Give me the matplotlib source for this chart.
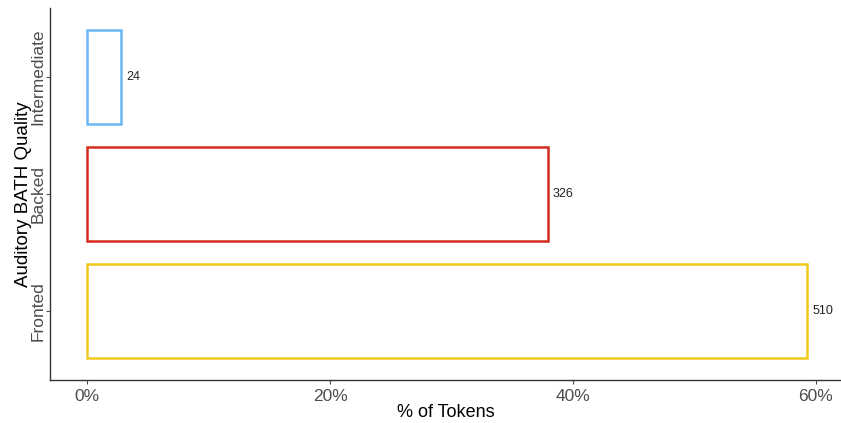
import matplotlib.pyplot as plt

categories = ['Fronted', 'Backed', 'Intermediate']
counts = [510, 326, 24]
colors = ['#F2C81E', '#D42B1E', '#6BB6F5']

total = float(sum(counts))
percents = [100.0 * c / total for c in counts]

plt.rcParams['font.family'] = ['Liberation Sans', 'DejaVu Sans']

fig = plt.figure(figsize=(8.41, 4.23), dpi=100)
ax = fig.add_axes([0.0595, 0.1017, 0.9405, 0.8793])

ypos = list(range(1, len(categories) + 1))
ax.barh(ypos, percents, height=0.8, left=0, facecolor='none',
        edgecolor=colors, linewidth=1.8)

for y, p, c in zip(ypos, percents, counts):
    ax.text(p + 0.45, y, str(c), va='center', ha='left', fontsize=9,
            color='#222222')

ax.set_xlim(-3.05, 62.06)
ax.set_ylim(0.41, 3.59)

ax.set_xticks([0, 20, 40, 60])
ax.set_xticklabels(['0%', '20%', '40%', '60%'])
ax.set_yticks(ypos)
ax.set_yticklabels(categories, rotation=90, va='center')

ax.tick_params(axis='both', colors='#4D4D4D', labelsize=12.5, length=3, width=0.8)
ax.tick_params(axis='y', pad=0.5)

ax.set_xlabel('% of Tokens', fontsize=13, color='black', labelpad=0)
ax.set_ylabel('Auditory BATH Quality', fontsize=13.5, color='black', labelpad=-1)

for s in ['top', 'right']:
    ax.spines[s].set_visible(False)
for s in ['left', 'bottom']:
    ax.spines[s].set_color('#333333')
    ax.spines[s].set_linewidth(1.0)

fig.savefig('out.png', dpi=100)
